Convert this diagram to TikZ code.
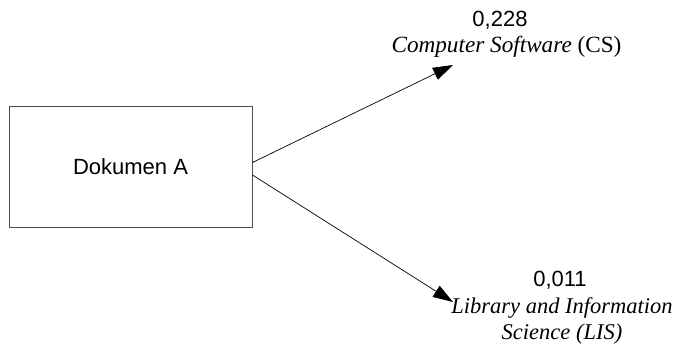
\documentclass[tikz,border=0pt]{standalone}
\usepackage{fontspec}
\setmainfont{Liberation Serif}
\setsansfont{Liberation Sans}
\usetikzlibrary{arrows.meta}
\begin{document}
\begin{tikzpicture}[x=1pt,y=-1pt,
	kotak/.style={draw=black!70, line width=0.9pt, minimum width=243pt, minimum height=121pt, font=\sffamily\fontsize{22}{26}\selectfont},
	panah/.style={-{Triangle[length=20pt,width=13pt]}, line width=0.7pt},
	nilai/.style={font=\sffamily\fontsize{22}{26}\selectfont},
	kelas/.style={font=\fontsize{23.2}{26}\selectfont, align=center}]
	\useasboundingbox (0,0) rectangle (675,349);
	% Dokumen
	\node[kotak] (dok) at (130.5,166.5) {Dokumen A};
	% Ziele
	\coordinate (cs) at (453,65);
	\coordinate (lis) at (453,302);
	% Pfeile
	\draw[panah] ([yshift=4pt]dok.east) -- (cs);
	\draw[panah] ([yshift=-8.5pt]dok.east) -- (lis);
	% Labels oben
	\node[nilai] (n1) at (500,20.5) {0,228};
	\node[kelas] (k1) at (506.5,46.5) {\textit{Computer Software} (CS)};
	% Labels unten
	\node[nilai] (n2) at (560,280.5) {0,011};
	\node[kelas, font=\fontsize{22.5}{26}\selectfont\itshape] (k2) at (562,321) {Library and Information\\Science (LIS)};
\end{tikzpicture}
\end{document}
